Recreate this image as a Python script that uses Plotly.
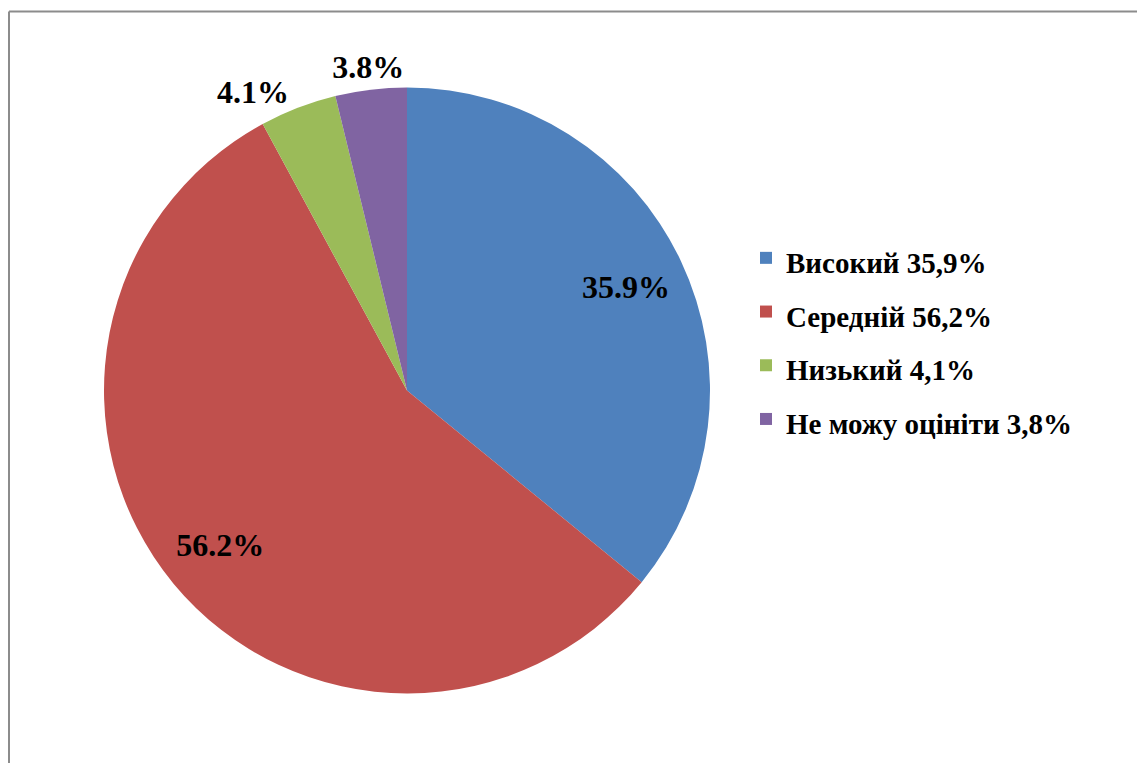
import plotly.graph_objects as go

categories = ["Високий 35,9%", "Середній 56,2%", "Низький 4,1%", "Не можу оцініти 3,8%"]
values = [35.9, 56.2, 4.1, 3.8]
colors = ["#4F81BD", "#C0504D", "#9BBB59", "#8064A2"]

W, H = 1145, 763
OFF = 8  # page body margin
cx, cy, r = 407 - OFF, 390.5 - OFF, 303
r_out = 348  # outer label ring radius

legend_labels = [f"<span style='font-size:29px'>{c}</span>" for c in categories]


def dom(rad):
    return dict(x=[(cx - rad) / W, (cx + rad) / W], y=[1 - (cy + rad) / H, 1 - (cy - rad) / H])


label_font = dict(family="Liberation Serif", size=32, color="black", weight="bold")
clear = ["rgba(0,0,0,0)"] * len(values)

common = dict(labels=legend_labels, values=values, sort=False, direction="clockwise",
              rotation=0, texttemplate="%{value:.1f}%", textfont=label_font, hoverinfo="skip")

# main pie (colours, legend, outside label of the green slice)
main = go.Pie(
    marker=dict(colors=colors, line=dict(width=0)),
    textposition=["none", "none", "outside", "none"],
    domain=dom(r),
    **common,
)

# transparent inner ring placing the large-slice labels
ring_in = go.Pie(
    hole=0.6,
    marker=dict(colors=clear, line=dict(width=0)),
    textposition=["inside", "inside", "none", "none"],
    insidetextorientation="horizontal",
    domain=dom(r),
    showlegend=False,
    **common,
)

# transparent outer ring placing the purple slice label just outside the pie
ring_out = go.Pie(
    hole=r / r_out,
    marker=dict(colors=clear, line=dict(width=0)),
    textposition=["none", "none", "none", "inside"],
    insidetextorientation="horizontal",
    domain=dom(r_out),
    showlegend=False,
    **common,
)

fig = go.Figure([main, ring_in, ring_out])

fig.update_layout(
    width=W, height=H,
    margin=dict(l=0, r=0, t=0, b=0),
    paper_bgcolor="white",
    plot_bgcolor="white",
    showlegend=True,
    uniformtext=dict(mode="show", minsize=32),
    legend=dict(
        x=738 / W, y=1 - 218 / H, xanchor="left", yanchor="top",
        font=dict(family="Liberation Serif", size=39, color="black", weight="bold"),
        itemclick=False, itemdoubleclick=False,
    ),
    shapes=[
        dict(type="line", xref="paper", yref="paper", x0=1 / W, x1=1.0, y0=1 - 3.5 / H, y1=1 - 3.5 / H,
             line=dict(color="#8C8C8C", width=2)),
        dict(type="line", xref="paper", yref="paper", x0=1 / W, x1=1 / W, y0=1 - 3.5 / H, y1=0,
             line=dict(color="#8C8C8C", width=2)),
    ],
)

fig.write_html("out.html")
